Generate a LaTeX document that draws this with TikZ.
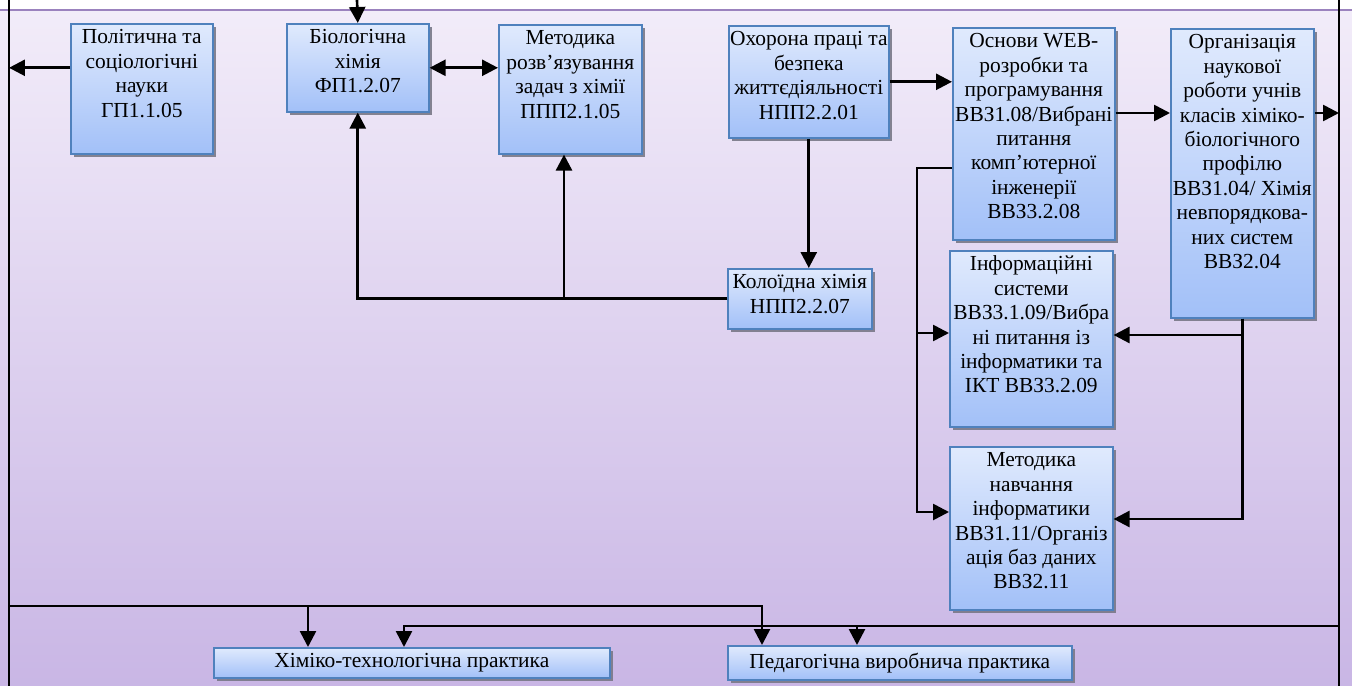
\documentclass[tikz,border=0pt]{standalone}
\usepackage{fontspec}
\setmainfont{Liberation Serif}
\usetikzlibrary{arrows.meta,shadows}

\newlength\pxu
\setlength\pxu{0.02cm}

\definecolor{fonhi}{RGB}{242,236,249}
\definecolor{fonlo}{RGB}{201,182,229}
\definecolor{riska}{RGB}{155,130,190}
\definecolor{blokhi}{RGB}{224,234,253}
\definecolor{bloklo}{RGB}{162,192,248}
\definecolor{kraj}{RGB}{79,129,189}
\definecolor{tin}{RGB}{120,120,135}

% text of a course box: width, height (px), lines
\newcommand{\blok}[3]{\parbox[c][#2\pxu][t]{#1\pxu}{\centering
  \leftskip=-8\pxu plus 1fil \rightskip=-8\pxu plus 1fil
  \vspace*{3\pxu}\strut #3}}

\tikzset{
  kurs/.style={draw=kraj, line width=0.9pt, top color=blokhi, bottom color=bloklo,
    inner sep=0pt, anchor=north west,
    drop shadow={shadow xshift=1.6pt, shadow yshift=-1.6pt, fill=tin, opacity=0.9},
    font=\fontsize{12.2}{13.9}\selectfont},
  prakt/.style={kurs},
  lin/.style={line width=1.5pt},
  zv/.style={lin, -{Triangle[length=3.2mm,width=3.2mm]}},
  zvv/.style={lin, {Triangle[length=3.2mm,width=3.2mm]}-{Triangle[length=3.2mm,width=3.2mm]}},
}

\begin{document}
\begin{tikzpicture}[x=0.02cm, y=-0.02cm]
    \useasboundingbox (0,0) rectangle (1352,686);

    % Background
    \shade[top color=fonhi, bottom color=fonlo] (0,10) rectangle (1352,686);
    \draw[riska, line width=0.8pt] (0,10) -- (1352,10);

    % Frame lines
    \coordinate (L0) at (9,0);
    \coordinate (L1) at (9,686);
    \coordinate (R0) at (1339,0);
    \coordinate (R1) at (1339,686);
    \draw[lin] (L0) -- (L1);
    \draw[lin] (R0) -- (R1);

    % Courses
    \node[kurs] (pol) at (70,23) {\blok{142}{130}{Політична та\\ соціологічні\\ науки\\ ГП1.1.05}};
    \node[kurs] (bio) at (286,23) {\blok{142}{88}{Біологічна\\ хімія\\ ФП1.2.07}};
    \node[kurs] (met) at (498,24) {\blok{143}{129}{Методика\\ розв’язування\\ задач з хімії\\ ППП2.1.05}};
    \node[kurs] (okh) at (728,25) {\blok{160}{112}{Охорона праці та\\ безпека\\ життєдіяльності\\ НПП2.2.01}};
    \node[kurs] (web) at (952,27) {\blok{162}{212}{Основи WEB-\\ розробки та\\ програмування\\ ВВЗ1.08/Вибрані\\ питання\\ комп’ютерної\\ інженерії\\ ВВЗ3.2.08}};
    \node[kurs] (org) at (1170,28) {\blok{143}{289}{Організація\\ наукової\\ роботи учнів\\ класів хіміко-\\ біологічного\\ профілю\\ ВВЗ1.04/ Хімія\\ невпорядкова-\\ них систем\\ ВВЗ2.04}};
    \node[kurs] (kol) at (727,268) {\blok{144}{60}{Колоїдна хімія\\ НПП2.2.07}};
    \node[kurs] (inf) at (949,250) {\blok{163}{176}{Інформаційні\\ системи\\ ВВЗ3.1.09/Вибра\\ ні питання із\\ інформатики та\\ ІКТ ВВЗ3.2.09}};
    \node[kurs] (mnv) at (949,446) {\blok{163}{163}{Методика\\ навчання\\ інформатики\\ ВВЗ1.11/Організ\\ ація баз даних\\ ВВЗ2.11}};

    % Practice
    \node[prakt, minimum width=396\pxu, minimum height=30\pxu] (khim) at (213,647) {Хіміко-технологічна практика};
    \node[prakt, minimum width=344\pxu, minimum height=34\pxu] (ped) at (727,645) {Педагогічна виробнича практика};

    % Links at the top
    \coordinate (vhid) at (357,0);
    \draw[zv] (vhid) -- (bio.north);
    \draw[zv] (pol.west |- bio.west) -- (L0 |- bio.west);
    \draw[zvv] (bio.east) -- (bio.east -| met.west);
    \draw[zv] (okh.east) -- (okh.east -| web.west);
    \draw[zv] (web.east |- 0,113) -- (org.west |- 0,113);
    \draw[zv] (org.east |- 0,113) -- (R0 |- 0,113);

    % Colloid chemistry
    \draw[zv] (okh.south) -- (okh.south |- kol.north);
    \draw[zv] (kol.west) -| (bio.south);
    \draw[zv] (kol.west) -| (met.south -| 564,0);

    % Informatics branch
    \draw[zv] (web.west |- 0,168) -| (917,333) -- (inf.west |- 0,333);
    \draw[zv] (917,333) |- (mnv.west |- 0,512);
    \draw[zv] (org.south) |- (inf.east |- 0,335);
    \draw[zv] (org.south) |- (mnv.east |- 0,519);

    % Lines to the practice
    \draw[zv] (L0 |- 0,606) -| (ped.north -| 762,0);
    \draw[zv] (308,606) -- (khim.north -| 308,0);
    \draw[zv] (R0 |- 0,626) -| (khim.north -| 404,0);
    \draw[zv] (857,626) -- (ped.north -| 857,0);

\end{tikzpicture}
\end{document}
